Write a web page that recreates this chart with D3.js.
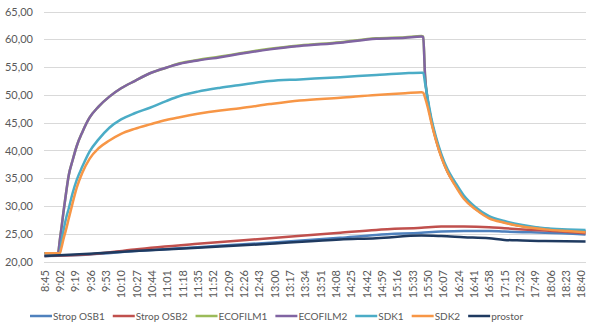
<!DOCTYPE html>
<html>
<head>
  <meta charset="utf-8">
  <title>Teploty</title>
  <script src="https://d3js.org/d3.v7.min.js"></script>
  <style>
    body { margin: 0; background: #fff; }
    .grid line { stroke: #d9d9d9; stroke-width: 1px; }
    .axis text { font: 11px Lato, "Open Sans", sans-serif; fill: #595959; }
    .series { fill: none; stroke-width: 2.5px; stroke-linejoin: round; }
    .legend text { font: 10px Lato, "Open Sans", sans-serif; fill: #595959; }
  </style>
</head>
<body>
  <svg width="598" height="326"></svg>

  <script>
    // tick labels on the category axis (every 17 minutes)
    const tickLabels = ["8:45","9:02","9:19","9:36","9:53","10:10","10:27","10:44","11:01","11:18",
      "11:35","11:52","12:09","12:26","12:43","13:00","13:17","13:34","13:51","14:08","14:25",
      "14:42","14:59","15:16","15:33","15:50","16:07","16:24","16:41","16:58","17:15","17:32",
      "17:49","18:06","18:23","18:40"];
    const yTicks = [20, 25, 30, 35, 40, 45, 50, 55, 60, 65];

    // sample times for the heated samples
    const timesHot = ["8:45","9:00","9:02","9:04","9:06","9:09","9:12","9:16","9:21","9:27",
      "9:35","9:45","9:57","10:10","10:25","10:42","11:00","11:15","11:35","12:00","12:22",
      "12:55","13:28","14:13","14:53","15:25","15:43","15:45","15:47","15:50","15:54","15:59",
      "16:05","16:12","16:20","16:30","16:43","16:58","17:15","17:35","18:00","18:25","18:45"];
    const ecofilm1 = [21.5,21.5,23.8,26.2,28.8,32.4,35.6,38.1,40.9,43.3,45.9,47.9,49.7,51.2,52.5,
      53.9,54.9,55.7,56.3,56.9,57.5,58.3,58.9,59.5,60.2,60.4,60.6,60.5,53.6,49.0,45.4,42.1,39.0,
      36.2,34.0,31.6,29.5,28.0,27.1,26.4,25.9,25.6,25.4];
    const ecofilm2 = [21.5,21.5,23.8,26.2,28.8,32.4,35.6,38.1,40.9,43.3,45.9,47.9,49.7,51.2,52.5,
      53.9,54.9,55.6,56.2,56.8,57.4,58.2,58.8,59.4,60.1,60.3,60.5,60.4,53.5,49.0,45.4,42.1,39.0,
      36.2,34.0,31.6,29.5,28.0,27.1,26.4,25.9,25.6,25.4];
    const sdk1 = [21.5,21.5,21.6,23.7,25.5,27.8,29.6,32.2,34.8,37.1,39.8,42.0,44.1,45.6,46.7,
      47.7,48.9,49.8,50.6,51.3,51.8,52.5,52.8,53.2,53.6,53.9,54.0,54.0,52.2,49.3,45.8,42.5,39.4,
      36.6,34.4,31.9,29.8,28.2,27.3,26.6,26.0,25.8,25.7];
    const sdk2 = [21.5,21.5,21.5,22.6,24.0,25.8,27.8,30.4,33.4,36.0,38.5,40.4,41.8,43.0,43.9,
      44.7,45.5,46.0,46.6,47.2,47.6,48.35,49.0,49.5,50.0,50.3,50.5,50.4,49.5,47.8,45.0,41.9,38.8,
      36.1,33.8,31.3,29.4,27.8,27.0,26.3,25.8,25.5,25.3];

    // sample times for the ceiling and room readings
    const timesLow = ["8:45","9:35","10:25","11:35","12:55","14:13","14:53","15:43","16:05",
      "16:30","16:58","17:15","17:35","18:00","18:45"];
    const stropOsb1 = [21.0,21.3,21.9,22.6,23.4,24.3,24.8,25.2,25.4,25.5,25.5,25.4,25.3,25.2,24.9];
    const stropOsb2 = [21.0,21.3,22.2,23.2,24.2,25.2,25.7,26.1,26.3,26.3,26.2,26.0,25.8,25.6,25.1];
    const prostor = [21.0,21.4,21.9,22.5,23.2,24.0,24.2,24.7,24.6,24.4,24.2,23.9,23.8,23.7,23.6];

    const seriesNames = ["Strop OSB1","Strop OSB2","ECOFILM1","ECOFILM2","SDK1","SDK2","prostor"];
    const colors = ["#4f81bd","#c0504d","#9bbb59","#8064a2","#4bacc6","#f79646","#1f3a60"];

    const toMin = s => { const [h, m] = s.split(":").map(Number); return h * 60 + m - 525; };

    const series = [
      { times: timesLow, values: stropOsb1 },
      { times: timesLow, values: stropOsb2 },
      { times: timesHot, values: ecofilm1 },
      { times: timesHot, values: ecofilm2 },
      { times: timesHot, values: sdk1 },
      { times: timesHot, values: sdk2 },
      { times: timesLow, values: prostor }
    ].map((s, i) => ({
      name: seriesNames[i],
      color: colors[i],
      points: s.values.map((v, j) => ({ t: toMin(s.times[j]), v: v }))
    }));

    const svg = d3.select("svg");
    svg.append("rect").attr("width", 598).attr("height", 326).attr("fill", "#fff");

    const x = d3.scaleLinear().domain([-0.5, 600.5]).range([44, 586]);
    const y = d3.scaleLinear().domain([20, 65]).range([261.6, 11.6]);

    // gridlines
    svg.append("g").attr("class", "grid")
      .selectAll("line").data(yTicks).enter().append("line")
      .attr("x1", 44).attr("x2", 586)
      .attr("y1", d => Math.round(y(d)) + 0.5)
      .attr("y2", d => Math.round(y(d)) + 0.5);

    // y axis labels
    const yAxis = d3.axisLeft(y).tickValues(yTicks)
      .tickFormat(d => d3.format(".2f")(d).replace(".", ","))
      .tickSize(0).tickPadding(11);
    svg.append("g").attr("class", "axis").attr("transform", "translate(44,0)")
      .call(yAxis)
      .call(g => g.select(".domain").remove());

    // x axis labels, rotated
    const xAxis = d3.axisBottom(x).tickValues(tickLabels.map(toMin))
      .tickFormat((d, i) => tickLabels[i]).tickSize(0);
    svg.append("g").attr("class", "axis").attr("transform", "translate(0,262)")
      .call(xAxis)
      .call(g => g.select(".domain").remove())
      .selectAll("text")
      .attr("transform", "rotate(-90)")
      .attr("text-anchor", "end")
      .attr("x", -8).attr("y", 0).attr("dy", "0.35em");

    const line = d3.line().x(d => x(d.t)).y(d => y(d.v)).curve(d3.curveMonotoneX);

    svg.append("g").selectAll("path").data(series).enter().append("path")
      .attr("class", "series")
      .attr("stroke", d => d.color)
      .attr("d", d => line(d.points));

    // legend
    const legend = svg.append("g").attr("class", "legend");
    let lx = 30;
    series.forEach(s => {
      legend.append("line")
        .attr("x1", lx).attr("x2", lx + 22).attr("y1", 316).attr("y2", 316)
        .attr("stroke", s.color).attr("stroke-width", 2.5);
      const t = legend.append("text").attr("x", lx + 23).attr("y", 316)
        .attr("dy", "0.35em").text(s.name);
      lx += 23 + t.node().getComputedTextLength() + 8;
    });
  </script>
</body>
</html>
